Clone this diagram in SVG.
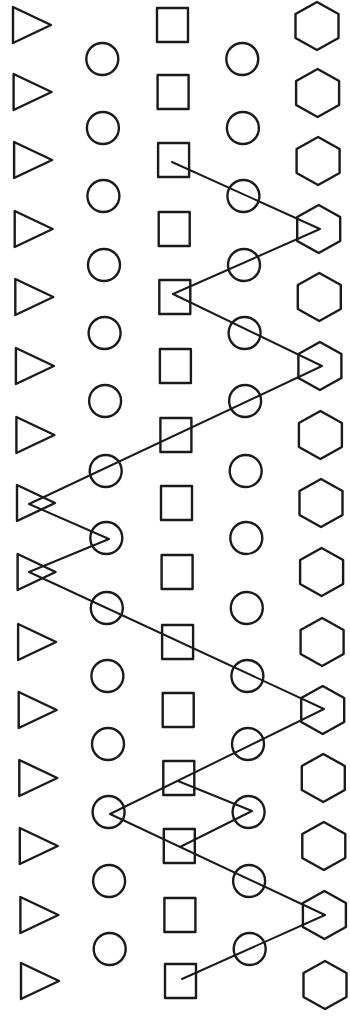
<svg xmlns="http://www.w3.org/2000/svg" xmlns:xlink="http://www.w3.org/1999/xlink" width="350" height="1018" viewBox="0 0 350 1018">
<style>
.n{fill:none;stroke:#1a1a1a;stroke-width:2.4;stroke-linejoin:round}
.c{fill:none;stroke:#1a1a1a;stroke-width:2;stroke-linejoin:round;stroke-linecap:round}
</style>
<defs>
<polygon id="tri" class="n" points="-19,-18 -19,18 19,0"/>
<rect id="sq" class="n" x="-15.5" y="-17" width="31" height="34"/>
<polygon id="hex" class="n" points="0,-24 21.5,-12 21.5,12 0,24 -21.5,12 -21.5,-12"/>
<circle id="circ" class="n" r="16"/>
</defs>
<rect width="350" height="1018" fill="#ffffff"/>
<g id="triangles">
<g id="t1" transform="translate(32,25)"><use href="#tri"/></g>
<g id="t2" transform="translate(32.6,92)"><use href="#tri"/></g>
<g id="t3" transform="translate(33.1,160)"><use href="#tri"/></g>
<g id="t4" transform="translate(33.7,229)"><use href="#tri"/></g>
<g id="t5" transform="translate(34.3,297)"><use href="#tri"/></g>
<g id="t6" transform="translate(34.9,366)"><use href="#tri"/></g>
<g id="t7" transform="translate(35.4,435)"><use href="#tri"/></g>
<g id="t8" transform="translate(36,503)"><use href="#tri"/></g>
<g id="t9" transform="translate(36.6,572)"><use href="#tri"/></g>
<g id="t10" transform="translate(37.1,642)"><use href="#tri"/></g>
<g id="t11" transform="translate(37.7,710)"><use href="#tri"/></g>
<g id="t12" transform="translate(38.3,778)"><use href="#tri"/></g>
<g id="t13" transform="translate(38.8,846)"><use href="#tri"/></g>
<g id="t14" transform="translate(39.4,915)"><use href="#tri"/></g>
<g id="t15" transform="translate(40,981)"><use href="#tri"/></g>
</g>
<g id="circlesB">
<g id="b1" transform="translate(102.3,59)"><use href="#circ"/></g>
<g id="b2" transform="translate(102.9,128)"><use href="#circ"/></g>
<g id="b3" transform="translate(103.4,196)"><use href="#circ"/></g>
<g id="b4" transform="translate(104,265)"><use href="#circ"/></g>
<g id="b5" transform="translate(104.6,333)"><use href="#circ"/></g>
<g id="b6" transform="translate(105.1,401)"><use href="#circ"/></g>
<g id="b7" transform="translate(105.7,471)"><use href="#circ"/></g>
<g id="b8" transform="translate(106.3,538)"><use href="#circ"/></g>
<g id="b9" transform="translate(106.8,608)"><use href="#circ"/></g>
<g id="b10" transform="translate(107.4,676)"><use href="#circ"/></g>
<g id="b11" transform="translate(108,744)"><use href="#circ"/></g>
<g id="b12" transform="translate(108.6,812)"><use href="#circ"/></g>
<g id="b13" transform="translate(109.1,881)"><use href="#circ"/></g>
<g id="b14" transform="translate(109.7,949)"><use href="#circ"/></g>
</g>
<g id="squares">
<g id="s1" transform="translate(172.5,25)"><use href="#sq"/></g>
<g id="s2" transform="translate(173.1,92)"><use href="#sq"/></g>
<g id="s3" transform="translate(173.6,160)"><use href="#sq"/></g>
<g id="s4" transform="translate(174.2,229)"><use href="#sq"/></g>
<g id="s5" transform="translate(174.8,297)"><use href="#sq"/></g>
<g id="s6" transform="translate(175.4,366)"><use href="#sq"/></g>
<g id="s7" transform="translate(175.9,435)"><use href="#sq"/></g>
<g id="s8" transform="translate(176.5,503)"><use href="#sq"/></g>
<g id="s9" transform="translate(177.1,572)"><use href="#sq"/></g>
<g id="s10" transform="translate(177.6,642)"><use href="#sq"/></g>
<g id="s11" transform="translate(178.2,710)"><use href="#sq"/></g>
<g id="s12" transform="translate(178.8,778)"><use href="#sq"/></g>
<g id="s13" transform="translate(179.3,846)"><use href="#sq"/></g>
<g id="s14" transform="translate(179.9,915)"><use href="#sq"/></g>
<g id="s15" transform="translate(180.5,981)"><use href="#sq"/></g>
</g>
<g id="circlesD">
<g id="d1" transform="translate(242.3,59)"><use href="#circ"/></g>
<g id="d2" transform="translate(242.9,128)"><use href="#circ"/></g>
<g id="d3" transform="translate(243.4,196)"><use href="#circ"/></g>
<g id="d4" transform="translate(244,265)"><use href="#circ"/></g>
<g id="d5" transform="translate(244.6,333)"><use href="#circ"/></g>
<g id="d6" transform="translate(245.1,401)"><use href="#circ"/></g>
<g id="d7" transform="translate(245.7,471)"><use href="#circ"/></g>
<g id="d8" transform="translate(246.3,538)"><use href="#circ"/></g>
<g id="d9" transform="translate(246.8,608)"><use href="#circ"/></g>
<g id="d10" transform="translate(247.4,676)"><use href="#circ"/></g>
<g id="d11" transform="translate(248,744)"><use href="#circ"/></g>
<g id="d12" transform="translate(248.6,812)"><use href="#circ"/></g>
<g id="d13" transform="translate(249.1,881)"><use href="#circ"/></g>
<g id="d14" transform="translate(249.7,949)"><use href="#circ"/></g>
</g>
<g id="hexagons">
<g id="h1" transform="translate(317,26)"><use href="#hex"/></g>
<g id="h2" transform="translate(317.6,93)"><use href="#hex"/></g>
<g id="h3" transform="translate(318.1,161)"><use href="#hex"/></g>
<g id="h4" transform="translate(318.7,229)"><use href="#hex"/></g>
<g id="h5" transform="translate(319.3,297)"><use href="#hex"/></g>
<g id="h6" transform="translate(319.9,366)"><use href="#hex"/></g>
<g id="h7" transform="translate(320.4,435)"><use href="#hex"/></g>
<g id="h8" transform="translate(321,503)"><use href="#hex"/></g>
<g id="h9" transform="translate(321.6,572)"><use href="#hex"/></g>
<g id="h10" transform="translate(322.1,642)"><use href="#hex"/></g>
<g id="h11" transform="translate(322.7,710)"><use href="#hex"/></g>
<g id="h12" transform="translate(323.3,778)"><use href="#hex"/></g>
<g id="h13" transform="translate(323.8,846)"><use href="#hex"/></g>
<g id="h14" transform="translate(324.4,915)"><use href="#hex"/></g>
<g id="h15" transform="translate(325,985)"><use href="#hex"/></g>
</g>
<g id="connectors">
<path class="c" d="M172,162 L320,229 L173,294 L322,366 L29,504 L109,539 L29,572 L324,709 L110,814 L325,915 L182,979"/>
<path class="c" d="M178,781 L252,811 L180,847"/>
</g>
</svg>
